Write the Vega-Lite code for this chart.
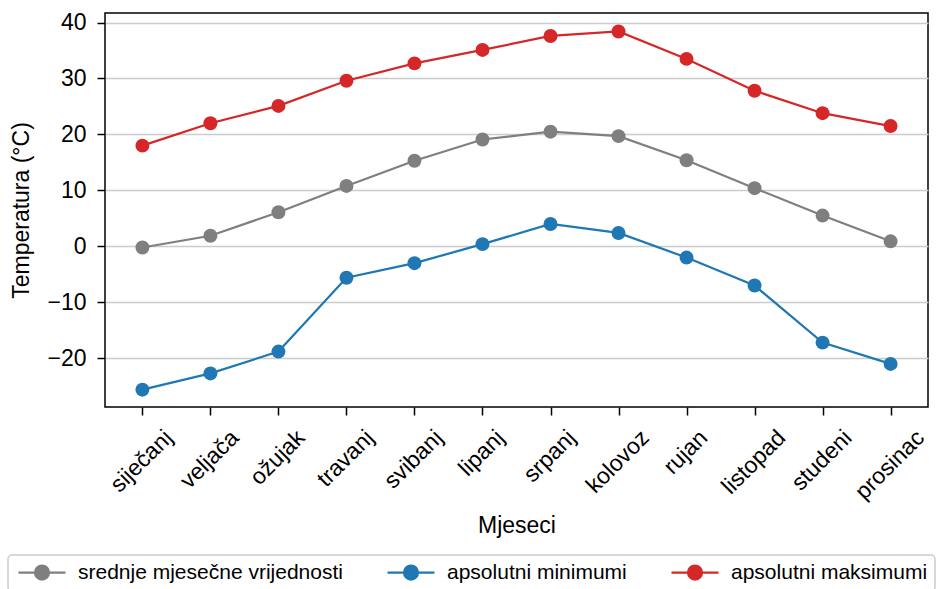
{
  "$schema": "https://vega.github.io/schema/vega-lite/v6.json",
  "autosize": {"type": "none"},
  "width": 823,
  "height": 394,
  "padding": {"left": 105, "top": 13, "right": 9, "bottom": 182},
  "background": "white",
  "config": {
    "font": "Liberation Sans",
    "view": {"stroke": "black", "strokeWidth": 1.5},
    "axis": {
      "labelFont": "Liberation Sans",
      "titleFont": "Liberation Sans",
      "labelColor": "black",
      "titleColor": "black",
      "tickColor": "black",
      "tickWidth": 1.5,
      "tickSize": 8,
      "labelFontSize": 23,
      "titleFontSize": 23,
      "titleFontWeight": "normal",
      "domain": false
    }
  },
  "data": {
    "values": [
      {"mjesec": "siječanj", "serija": "srednje mjesečne vrijednosti", "temp": -0.2},
      {"mjesec": "veljača", "serija": "srednje mjesečne vrijednosti", "temp": 1.9},
      {"mjesec": "ožujak", "serija": "srednje mjesečne vrijednosti", "temp": 6.1},
      {"mjesec": "travanj", "serija": "srednje mjesečne vrijednosti", "temp": 10.8},
      {"mjesec": "svibanj", "serija": "srednje mjesečne vrijednosti", "temp": 15.3},
      {"mjesec": "lipanj", "serija": "srednje mjesečne vrijednosti", "temp": 19.1},
      {"mjesec": "srpanj", "serija": "srednje mjesečne vrijednosti", "temp": 20.5},
      {"mjesec": "kolovoz", "serija": "srednje mjesečne vrijednosti", "temp": 19.7},
      {"mjesec": "rujan", "serija": "srednje mjesečne vrijednosti", "temp": 15.4},
      {"mjesec": "listopad", "serija": "srednje mjesečne vrijednosti", "temp": 10.4},
      {"mjesec": "studeni", "serija": "srednje mjesečne vrijednosti", "temp": 5.5},
      {"mjesec": "prosinac", "serija": "srednje mjesečne vrijednosti", "temp": 0.9},
      {"mjesec": "siječanj", "serija": "apsolutni minimumi", "temp": -25.6},
      {"mjesec": "veljača", "serija": "apsolutni minimumi", "temp": -22.7},
      {"mjesec": "ožujak", "serija": "apsolutni minimumi", "temp": -18.8},
      {"mjesec": "travanj", "serija": "apsolutni minimumi", "temp": -5.6},
      {"mjesec": "svibanj", "serija": "apsolutni minimumi", "temp": -3.0},
      {"mjesec": "lipanj", "serija": "apsolutni minimumi", "temp": 0.4},
      {"mjesec": "srpanj", "serija": "apsolutni minimumi", "temp": 4.0},
      {"mjesec": "kolovoz", "serija": "apsolutni minimumi", "temp": 2.4},
      {"mjesec": "rujan", "serija": "apsolutni minimumi", "temp": -2.0},
      {"mjesec": "listopad", "serija": "apsolutni minimumi", "temp": -7.0},
      {"mjesec": "studeni", "serija": "apsolutni minimumi", "temp": -17.2},
      {"mjesec": "prosinac", "serija": "apsolutni minimumi", "temp": -21.0},
      {"mjesec": "siječanj", "serija": "apsolutni maksimumi", "temp": 18.0},
      {"mjesec": "veljača", "serija": "apsolutni maksimumi", "temp": 22.0},
      {"mjesec": "ožujak", "serija": "apsolutni maksimumi", "temp": 25.1},
      {"mjesec": "travanj", "serija": "apsolutni maksimumi", "temp": 29.6},
      {"mjesec": "svibanj", "serija": "apsolutni maksimumi", "temp": 32.7},
      {"mjesec": "lipanj", "serija": "apsolutni maksimumi", "temp": 35.1},
      {"mjesec": "srpanj", "serija": "apsolutni maksimumi", "temp": 37.6},
      {"mjesec": "kolovoz", "serija": "apsolutni maksimumi", "temp": 38.4},
      {"mjesec": "rujan", "serija": "apsolutni maksimumi", "temp": 33.5},
      {"mjesec": "listopad", "serija": "apsolutni maksimumi", "temp": 27.8},
      {"mjesec": "studeni", "serija": "apsolutni maksimumi", "temp": 23.8},
      {"mjesec": "prosinac", "serija": "apsolutni maksimumi", "temp": 21.5}
    ]
  },
  "encoding": {
    "x": {
      "field": "mjesec",
      "type": "nominal",
      "sort": ["siječanj", "veljača", "ožujak", "travanj", "svibanj", "lipanj", "srpanj", "kolovoz", "rujan", "listopad", "studeni", "prosinac"],
      "scale": {"type": "point", "padding": 0.55},
      "axis": {
        "title": "Mjeseci",
        "labelAngle": -45,
        "labelAlign": "right",
        "labelBaseline": "top",
        "labelPadding": 11,
        "titlePadding": 11,
        "grid": false,
        "labelOffset": {
          "condition": [
            {"test": "datum.value === 'siječanj'", "value": 18.2},
            {"test": "datum.value === 'veljača'", "value": 16.3},
            {"test": "datum.value === 'ožujak'", "value": 14.5},
            {"test": "datum.value === 'travanj'", "value": 15.4},
            {"test": "datum.value === 'svibanj'", "value": 16.3},
            {"test": "datum.value === 'lipanj'", "value": 10.0},
            {"test": "datum.value === 'srpanj'", "value": 13.2},
            {"test": "datum.value === 'kolovoz'", "value": 18.6},
            {"test": "datum.value === 'rujan'", "value": 9.1},
            {"test": "datum.value === 'listopad'", "value": 19.1},
            {"test": "datum.value === 'studeni'", "value": 17.3},
            {"test": "datum.value === 'prosinac'", "value": 21.8}
          ],
          "value": 16
        }
      }
    },
    "y": {
      "field": "temp",
      "type": "quantitative",
      "scale": {"domain": [-28.7, 41.7], "nice": false, "zero": false},
      "axis": {
        "title": "Temperatura (°C)",
        "values": [-20, -10, 0, 10, 20, 30, 40],
        "labelExpr": "replace(datum.label, '-', '−')",
        "labelPadding": 11,
        "titlePadding": 13,
        "grid": true,
        "gridColor": "#cccccc",
        "gridWidth": 1.4
      }
    },
    "color": {
      "field": "serija",
      "type": "nominal",
      "scale": {
        "domain": ["srednje mjesečne vrijednosti", "apsolutni minimumi", "apsolutni maksimumi"],
        "range": ["#7f7f7f", "#1f77b4", "#d62728"]
      },
      "legend": {
        "orient": "none",
        "legendX": -97,
        "legendY": 542,
        "direction": "horizontal",
        "title": null,
        "symbolType": "M-1,0L5.714,0M3.357,0A1,1,0,1,1,1.357,0A1,1,0,1,1,3.357,0Z",
        "symbolSize": 196,
        "symbolStrokeWidth": 2.2,
        "symbolOpacity": 1,
        "labelFont": "Liberation Sans",
        "labelFontSize": 21,
        "labelColor": "black",
        "labelLimit": 0,
        "labelOffset": 42,
        "columnPadding": 40,
        "padding": 7,
        "strokeColor": "#cccccc",
        "cornerRadius": 4,
        "fillColor": "white",
        "encode": {
          "legend": {
            "update": {
              "strokeWidth": {"value": 1.5}
            }
          },
          "symbols": {
            "update": {
              "fill": {"scale": "color", "field": "value"},
              "stroke": {"scale": "color", "field": "value"}
            }
          }
        }
      }
    }
  },
  "layer": [
    {"mark": {"type": "line", "strokeWidth": 2.2}},
    {"mark": {"type": "point", "filled": true, "size": 195, "opacity": 1}}
  ]
}
